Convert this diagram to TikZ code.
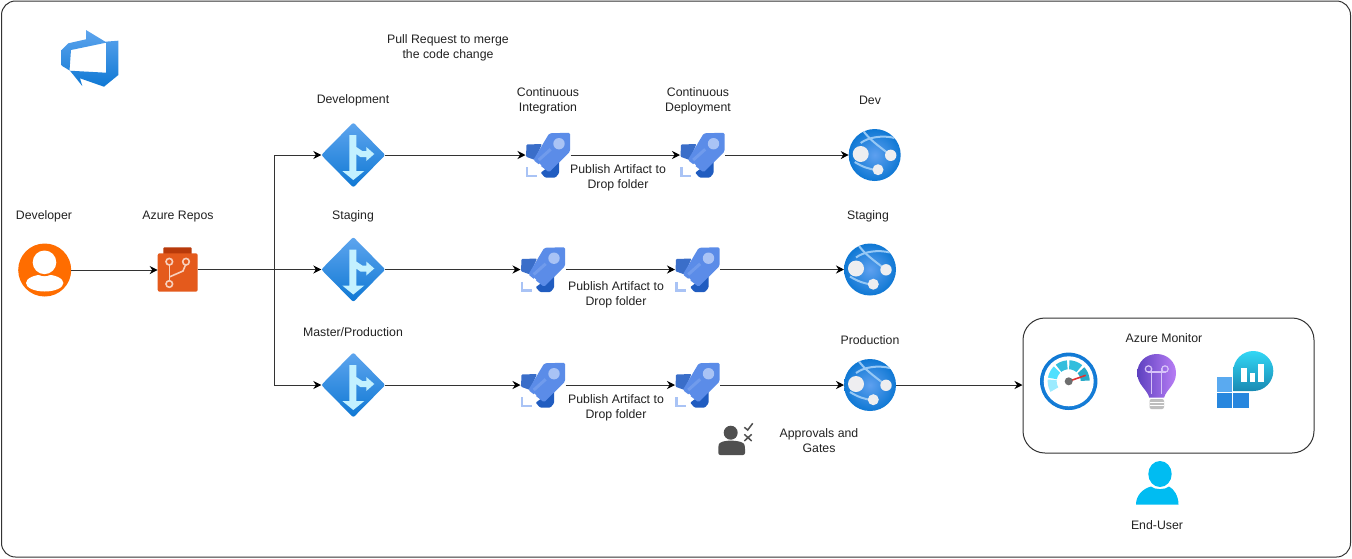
\documentclass[tikz,border=0pt]{standalone}
\usepackage{fontspec}
\setmainfont{Liberation Sans}
\usetikzlibrary{arrows.meta}
\definecolor{txt}{HTML}{222222}
\definecolor{lnc}{HTML}{333333}
\definecolor{rkA}{RGB}{58,110,201}
\definecolor{rkB}{RGB}{32,92,192}
\definecolor{rkC}{RGB}{91,140,232}
\definecolor{rkD}{RGB}{112,155,236}
\definecolor{rkE}{RGB}{169,195,245}
\definecolor{azL}{RGB}{94,165,238}
\definecolor{azD}{RGB}{15,120,212}
\definecolor{mgA}{RGB}{195,241,255}
\definecolor{glL}{RGB}{94,160,239}
\definecolor{glM}{RGB}{150,200,245}
\definecolor{glW}{RGB}{238,238,240}
\definecolor{orng}{RGB}{255,109,0}
\definecolor{rpD}{RGB}{184,58,10}
\definecolor{rpM}{RGB}{228,90,28}
\definecolor{rpL}{RGB}{248,208,188}
\definecolor{gry}{RGB}{80,80,80}
\definecolor{gaA}{RGB}{156,235,255}
\definecolor{gaB}{RGB}{80,224,255}
\definecolor{gaC}{RGB}{50,190,221}
\definecolor{gaD}{RGB}{41,170,200}
\definecolor{gaR}{RGB}{224,50,50}
\definecolor{gaH}{RGB}{110,110,110}
\definecolor{gaI}{RGB}{80,165,235}
\definecolor{buA}{RGB}{94,65,192}
\definecolor{buB}{RGB}{184,125,245}
\definecolor{buC}{RGB}{215,195,248}
\definecolor{buG}{RGB}{190,190,190}
\definecolor{tiA}{RGB}{90,170,240}
\definecolor{tiB}{RGB}{40,135,222}
\definecolor{tiC}{RGB}{50,215,245}
\definecolor{tiD}{RGB}{25,138,179}
\definecolor{usr}{RGB}{0,188,242}
\tikzset{
  x=1pt,y=-1pt,
  lbl/.style={font=\fontsize{12.3}{15}\selectfont,text=txt,align=center,inner sep=0pt},
  ic/.style={inner sep=0pt,outer sep=0pt},
  arr/.style={draw=lnc,line width=1pt,-{Stealth[length=8pt,width=8pt,color=black]}},
  frame/.style={draw=lnc,line width=1pt,fill=white,rounded corners=14pt},
  mon/.style={draw=lnc,line width=1pt,rounded corners=22pt,minimum width=291pt,minimum height=135pt,inner sep=0pt},
}
\newcommand{\rocketicon}[3]{%
  \node[ic,minimum width=45pt,minimum height=44pt] (#1) at (#2,#3) {};
  \begin{scope}[shift={(#2,#3)}]
    \fill[rkA,rounded corners=1pt] (-21.5,-10.5) -- (-6,-11) -- (-13,5) -- (-22,1.7) -- cycle;
    \fill[rkB,rounded corners=1pt] (11,4) -- (11,18.3) -- (7.5,22.5) -- (-3,22.5) -- (-7.3,17.7) -- cycle;
    \fill[rkC,rounded corners=1.5pt] (1.3,-21.7) -- (22,-22.3) -- (22,-3.3) -- (1,17.3) -- (-14.7,5) -- cycle;
    \draw[line width=3pt,rkD] (-9.3,5) -- (2.7,-5.7);
    \fill[rkE] (11,-11.3) circle (5.7);
    \draw[line width=2.5pt,white] (-11,13) -- (-7.5,9.5);
    \draw[line width=2.4pt,rkE] (-21,12.3) -- (-21,21) -- (-11.3,21);
  \end{scope}}
\newcommand{\mergeicon}[3]{%
  \node[ic,minimum width=64pt,minimum height=64pt] (#1) at (#2,#3) {};
  \begin{scope}[shift={(#2,#3)}]
    \shade[top color=azL,bottom color=azD,rounded corners=2pt] (0,-32.5) -- (32,0) -- (0,32.5) -- (-32,0) -- cycle;
    \fill[mgA] (-4,-20) -- (3,-20) -- (3,-8) -- (9,-4) -- (13,-4) -- (13,-8) -- (21,-1) -- (13,6) -- (13,2) -- (7,2) -- (3,-1) -- (3,16) -- (11,16) -- (0,25) -- (-11,16) -- (-4,16) -- cycle;
  \end{scope}}
\newcommand{\globeicon}[3]{%
  \node[ic,minimum width=52pt,minimum height=52pt] (#1) at (#2,#3) {};
  \begin{scope}[shift={(#2,#3)}]
    \shade[inner color=glL,outer color=azD] (0,0) circle (26);
    \begin{scope}
      \clip (0,0) circle (26);
      \draw[line width=2pt,glM] (-12,-25) .. controls (-6,-16) and (4,-9) .. (13,-2);
      \draw[line width=2pt,glM] (-14,-12) .. controls (-6,-18) and (8,-20) .. (20,-17);
      \draw[line width=2pt,glM] (-20,7) .. controls (-12,12) and (-6,14) .. (2,15);
    \end{scope}
    \fill[glW] (-14,-1) circle (8);
    \fill[glW] (16,0.3) circle (5.7);
    \fill[glW] (3.3,14.7) circle (5.5);
  \end{scope}}
\newcommand{\gaugeseg}[3]{\fill[#3] plot[domain=#1:#2,samples=8] ({21*cos(\x)},{21*sin(\x)}) -- plot[domain=#2:#1,samples=8] ({12*cos(\x)},{12*sin(\x)}) -- cycle;}
\begin{document}
\begin{tikzpicture}
  \useasboundingbox (0,0) rectangle (1352,558);
  \node[frame,minimum width=1349pt,minimum height=556pt,anchor=north west,inner sep=0pt] (frm) at (1,0.5) {};

  % Azure DevOps logo
  \node[ic,minimum width=57pt,minimum height=57pt] (logo) at (90,58) {};
  \shade[top color=azL,bottom color=azD,even odd rule]
    (86,30) -- (105.3,41.7) -- (118.3,40.7) -- (118.3,75) -- (104,86.7) -- (80,78.3) -- (82.3,86) -- (70,70.7) -- (61.7,65.7) -- (61.7,50) -- (68.3,43.3) -- (86,39.3) -- cycle
    (71,50) -- (106,42.7) -- (106,72.7) -- (69.5,70.7) -- cycle;

  % Developer
  \node[ic,minimum width=53pt,minimum height=53pt] (dev) at (44.7,270) {};
  \fill[orng] (44.7,270) circle (26.5);
  \begin{scope}
    \clip (44.7,270) circle (26);
    \fill[white] (44.7,283) ellipse [x radius=18.7,y radius=8.5];
  \end{scope}
  \fill[orng] (44.5,262.3) circle (13.8);
  \fill[white] (44.5,262.3) circle (11.8);

  % Azure Repos
  \node[ic,minimum width=40pt,minimum height=45pt] (repo) at (177.7,270) {};
  \fill[rpD,rounded corners=1pt] (163.3,247.3) rectangle (191.7,256);
  \fill[rpM,rounded corners=2pt] (157.7,253.3) rectangle (197.7,291.7);
  \begin{scope}[line width=1.6pt,rpL]
    \draw (169.3,261.7) circle (3.3);
    \draw (186,261.7) circle (3.3);
    \draw (169.3,284) circle (3.3);
    \draw (169.3,265) -- (169.3,280.7);
    \draw (169.3,277) -- (183,271) -- (185.5,265);
  \end{scope}

  % rows
  \mergeicon{m1}{353.3}{155}
  \mergeicon{m2}{353.3}{269.5}
  \mergeicon{m3}{353.3}{385}
  \rocketicon{ci1}{548}{155}
  \rocketicon{cd1}{702.5}{155}
  \rocketicon{ci2}{543}{269.5}
  \rocketicon{cd2}{697.5}{269.5}
  \rocketicon{ci3}{543}{385}
  \rocketicon{cd3}{697.5}{385}
  \globeicon{w1}{874.7}{155}
  \globeicon{w2}{870}{269.5}
  \globeicon{w3}{870}{385}

  % Approvals person
  \node[ic,minimum width=36pt,minimum height=32pt] (appr) at (735,439) {};
  \begin{scope}[gry]
    \fill (730.7,432.7) circle (7);
    \fill[rounded corners=2pt] (718.3,455) -- (718.3,447) .. controls (719,442) and (724,441) .. (730.7,440.5) .. controls (738,441) and (744,442) .. (745,447) -- (745,455) -- cycle;
    \draw[line width=1.5pt] (744.3,427.3) -- (747.7,430) -- (752.7,423.3);
    \draw[line width=1.5pt] (744.3,434.3) -- (751.7,441) (751.7,434.3) -- (744.3,441);
  \end{scope}

  % Azure Monitor group
  \node[mon] (mon) at (1168.5,385.5) {};

  % gauge
  \node[ic,minimum width=58pt,minimum height=58pt] (gauge) at (1068.7,381.3) {};
  \begin{scope}[shift={(1068.7,381.3)}]
    \shade[inner color=gaI,outer color=azD] (0,0) circle (28.7);
    \fill[white] (0,0) circle (25);
    \gaugeseg{150}{185}{gaA}
    \gaugeseg{190}{225}{gaB}
    \gaugeseg{232}{265}{gaC}
    \gaugeseg{272}{310}{gaC}
    \gaugeseg{318}{358}{gaD}
    \draw[line width=1.6pt,gaR] (0,0) -- (17,-6);
    \fill[gaH] (0,0) circle (4);
  \end{scope}

  % bulb
  \node[ic,minimum width=39pt,minimum height=56pt] (bulb) at (1156.7,381.5) {};
  \shade[left color=buA,right color=buB]
    (1149.3,397.7) .. controls (1147,389) and (1137.3,385) .. (1137.3,373)
    .. controls (1137.3,362) and (1146,354) .. (1156.7,354)
    .. controls (1167.4,354) and (1176,362) .. (1176,373)
    .. controls (1176,385) and (1166.5,389) .. (1164,397.7) -- cycle;
  \begin{scope}[line width=1.2pt,buC]
    \draw (1151.5,368) -- (1151.5,394);
    \draw (1161.7,368) -- (1161.7,394);
    \draw (1148.5,369) circle (3.2);
    \draw (1165,369) circle (3.2);
    \draw (1148,372) -- (1165.5,372);
  \end{scope}
  \fill[buG,rounded corners=2pt] (1149.5,399) rectangle (1164,409);
  \draw[line width=0.8pt,white] (1149.5,402) -- (1164,402) (1149.5,405) -- (1164,405);

  % insights tiles
  \node[ic,minimum width=57pt,minimum height=57pt] (tiles) at (1245,379.5) {};
  \fill[tiA] (1216.7,376.7) rectangle (1231.7,391.7);
  \fill[tiB] (1216.7,393.3) rectangle (1231.7,407.7);
  \fill[tiB] (1233.3,393.3) rectangle (1248.7,407.7);
  \shade[top color=tiC,bottom color=tiD]
    (1233.3,391) -- (1233.3,371) .. controls (1233.3,360) and (1242.3,351) .. (1253.3,351)
    .. controls (1264.3,351) and (1273.3,360) .. (1273.3,371)
    .. controls (1273.3,382) and (1264.3,391) .. (1253.3,391) -- cycle;
  \fill[white] (1240.7,368.3) rectangle (1246.7,381.7);
  \fill[white] (1250,373.3) rectangle (1255,381.7);
  \fill[white] (1258.3,364.3) rectangle (1264,381.7);

  % End user
  \node[ic,minimum width=43pt,minimum height=45pt] (user) at (1157.5,482.5) {};
  \begin{scope}[usr]
    \fill (1160,474) ellipse [x radius=11.7,y radius=13];
    \fill (1136,504.5) .. controls (1136,496) and (1142,489) .. (1151,486.5) .. controls (1155,490) and (1165,490) .. (1169,486.5) .. controls (1174,489) and (1178.5,496) .. (1178.5,504.5) -- cycle;
  \end{scope}

  % connectors
  \coordinate (jn) at (274,269.5);
  \draw[arr] (dev) -- (repo);
  \draw[arr] (repo.east |- m2) -- (m2);
  \draw[arr] (jn) |- (m1);
  \draw[arr] (jn) |- (m3);
  \draw[arr] (m1) -- (ci1);
  \draw[arr] (m2) -- (ci2);
  \draw[arr] (m3) -- (ci3);
  \draw[arr] (ci1) -- (cd1);
  \draw[arr] (ci2) -- (cd2);
  \draw[arr] (ci3) -- (cd3);
  \draw[arr] (cd1) -- (w1);
  \draw[arr] (cd2) -- (w2);
  \draw[arr] (cd3) -- (w3);
  \draw[arr] (w3) -- (w3 -| mon.west);

  % labels
  \node[lbl] (t1) at (448,48) {Pull Request to merge\\the code change};
  \node[lbl] (t2) at (353,100.5) {Development};
  \node[lbl] (t3) at (548,101) {Continuous\\Integration};
  \node[lbl] (t4) at (698,101) {Continuous\\Deployment};
  \node[lbl] (t5) at (870,100.5) {Dev};
  \node[lbl] (t6) at (44,216.5) {Developer};
  \node[lbl] (t7) at (178,216.5) {Azure Repos};
  \node[lbl] (t8) at (353,216.5) {Staging};
  \node[lbl] (t9) at (868,216.5) {Staging};
  \node[lbl] (t10) at (353,332.5) {Master/Production};
  \node[lbl] (t11) at (870,340.5) {Production};
  \node[lbl] (t12) at (618,178) {Publish Artifact to\\Drop folder};
  \node[lbl] (t13) at (616,295) {Publish Artifact to\\Drop folder};
  \node[lbl] (t14) at (616,408) {Publish Artifact to\\Drop folder};
  \node[lbl] (t15) at (1164,338.5) {Azure Monitor};
  \node[lbl] (t16) at (819,441) {Approvals and\\Gates};
  \node[lbl] (t17) at (1157,525.5) {End-User};
\end{tikzpicture}
\end{document}
